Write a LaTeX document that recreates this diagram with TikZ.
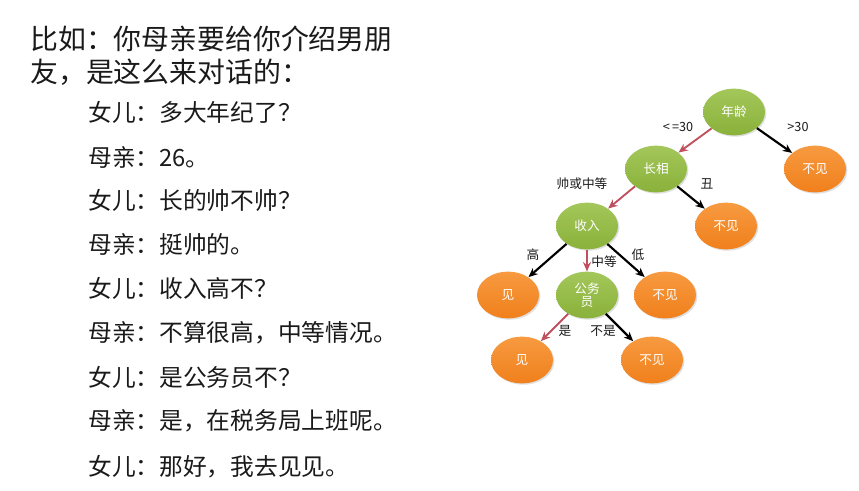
\documentclass[tikz,border=0pt]{standalone}
\usepackage{fontspec}
\setmainfont{Noto Sans CJK SC}
\usetikzlibrary{shapes.geometric,arrows.meta,shadows}
\definecolor{leafgreen}{HTML}{8AB13A}
\definecolor{leafgreenlight}{HTML}{A3C75A}
\definecolor{orng}{HTML}{F0801C}
\definecolor{orngl}{HTML}{F79A40}
\definecolor{redarr}{HTML}{C0505D}
\definecolor{txt}{HTML}{1A1A1A}
\begin{document}
\begin{tikzpicture}[x=0.75pt,y=-0.75pt,
  gnode/.style={ellipse,minimum width=46.5pt,minimum height=35pt,inner sep=0pt,
    top color=leafgreenlight,bottom color=leafgreen,draw=none,text=white,
    font=\fontsize{9.5}{10}\selectfont,align=center,
    drop shadow={shadow xshift=1pt,shadow yshift=-1pt,opacity=0.25}},
  onode/.style={gnode,top color=orngl,bottom color=orng},
  blk/.style={-{Stealth[length=7pt,width=6pt]},line width=1.6pt,black},
  red/.style={-{Stealth[length=7pt,width=6pt]},line width=1.4pt,redarr},
  elab/.style={font=\fontsize{9.5}{10}\selectfont,text=txt,inner sep=1pt},
  big/.style={anchor=west,font=\fontsize{20.9}{22}\selectfont,text=txt,inner sep=0pt},
  dlg/.style={anchor=west,font=\fontsize{17.8}{19}\selectfont,text=txt,inner sep=0pt}]
\useasboundingbox (0,0) rectangle (859,490);
\fill[white] (0,0) rectangle (859,490);
% left text
\node[big] (t1) at (30,39) {比如：你母亲要给你介绍男朋};
\node[big] (t2) at (30,72) {友，是这么来对话的：};
\node[dlg] (d1) at (88,112) {女儿：多大年纪了？};
\node[dlg] (d2) at (88,157) {母亲：26。};
\node[dlg] (d3) at (88,200) {女儿：长的帅不帅？};
\node[dlg] (d4) at (88,244) {母亲：挺帅的。};
\node[dlg] (d5) at (88,288) {女儿：收入高不？};
\node[dlg] (d6) at (88,333) {母亲：不算很高，中等情况。};
\node[dlg] (d7) at (88,377) {女儿：是公务员不？};
\node[dlg] (d8) at (88,421) {母亲：是，在税务局上班呢。};
\node[dlg] (d9) at (88,467) {女儿：那好，我去见见。};
% tree
\node[gnode] (age) at (734,112) {年龄};
\node[onode] (n1) at (815,169) {不见};
\node[gnode] (look) at (656,169) {长相};
\node[onode] (n2) at (726,226) {不见};
\node[gnode] (inc) at (587,226) {收入};
\node[onode] (y1) at (508,295) {见};
\node[gnode] (gov) at (587,295) {公务\\员};
\node[onode] (n3) at (665,295) {不见};
\node[onode] (y2) at (522,360) {见};
\node[onode] (n4) at (652,360) {不见};
\draw[red] (age) -- (look);
\draw[blk] (age) -- (n1);
\draw[red] (look) -- (inc);
\draw[blk] (look) -- (n2);
\draw[blk] (inc) -- (y1);
\draw[red] (inc) -- (gov);
\draw[blk] (inc) -- (n3);
\draw[red] (gov) -- (y2);
\draw[blk] (gov) -- (n4);
\node[elab] (l1) at (678,127) {<\,=30};
\node[elab] (l2) at (798,127) {>30};
\node[elab] (l3) at (582,184) {帅或中等};
\node[elab] (l4) at (707,184) {丑};
\node[elab] (l5) at (533,255) {高};
\node[elab] (l6) at (604,262) {中等};
\node[elab] (l7) at (638,255) {低};
\node[elab] (l8) at (565,331) {是};
\node[elab] (l9) at (603,331) {不是};
\end{tikzpicture}
\end{document}
